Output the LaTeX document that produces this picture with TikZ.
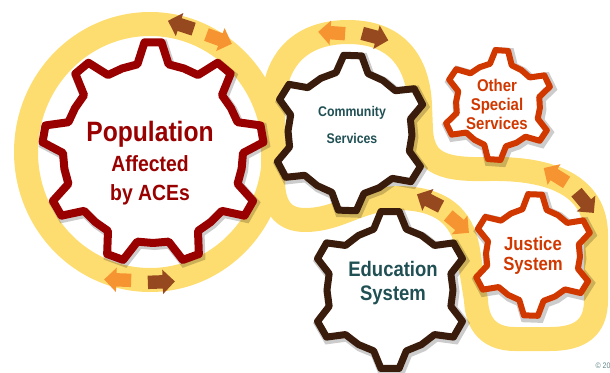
\documentclass[tikz,border=0pt]{standalone}
\usepackage{fontspec}
\setmainfont{Liberation Sans}[FakeStretch=0.88]
\usetikzlibrary{shapes.arrows}
\definecolor{bandyellow}{RGB}{254,221,112}
\definecolor{popred}{RGB}{153,0,0}
\definecolor{gearbrown}{RGB}{58,28,12}
\definecolor{gearorange}{RGB}{208,56,0}
\definecolor{arroworange}{RGB}{247,148,50}
\definecolor{arrowbrown}{RGB}{150,72,30}
\definecolor{labelteal}{RGB}{32,80,84}
\tikzset{
band/.style={draw=bandyellow, line width=24pt, line join=round},
gearline/.style={fill=white, line join=round,
	  preaction={draw=black, draw opacity=0.2, line width=10pt,
	    transform canvas={shift={(1.5pt,-2pt)}}}},
twoway/.style={single arrow, inner xsep=0pt, inner ysep=6.5pt,
	  minimum height=27pt, single arrow head extend=5.5pt},
gearlabel/.style={align=center}
}
% #1 centre, #2 teeth, #3 tip radius, #4 root radius, #5 first tooth, #6 style
\newcommand{\drawgear}[6]{%
	\pgfmathsetmacro{\gearstep}{360/#2}
	\draw[gearline, #6, shift={(#1)}] ({#5-0.25*\gearstep}:#4)
	\foreach \k in {1,...,#2}{
		-- ({#5+(\k-1)*\gearstep-0.11*\gearstep}:#3)
		-- ({#5+(\k-1)*\gearstep+0.11*\gearstep}:#3)
		-- ({#5+(\k-1)*\gearstep+0.25*\gearstep}:#4)
		-- ({#5+(\k-1)*\gearstep+0.5*\gearstep}:#4)
		-- ({#5+(\k-1)*\gearstep+0.75*\gearstep}:#4)
	} -- cycle;
}

\begin{document}
\begin{tikzpicture}[x=1pt, y=-1pt]
	\useasboundingbox (0,0) rectangle (610,372);
	% the yellow track
	\draw[band] (150,152) ellipse [x radius=124pt, y radius=128pt];
	\draw[band] (273,150) -- (273,110) .. controls (273,55) and (305,32) .. (348,32)
	  .. controls (395,32) and (418,60) .. (420,105) -- (421,130)
	  .. controls (423,165) and (445,170) .. (490,169)
	  .. controls (550,168) and (596,185) .. (596,235) -- (596,300)
	  .. controls (596,328) and (580,339) .. (550,339) -- (515,339)
	  .. controls (490,339) and (477,325) .. (476,300) -- (468,250)
	  .. controls (462,215) and (440,199) .. (400,198)
	  .. controls (360,198) and (340,220) .. (305,220)
	  .. controls (282,220) and (273,205) .. (273,180) -- cycle;
	% arrows on the track
	\node[twoway, fill=arrowbrown, rotate=162] (topleft) at (184,26) {};
	\node[twoway, fill=arroworange, rotate=-20] (topright) at (216,38) {};
	\node[twoway, fill=arroworange, rotate=176] (commleft) at (335,33) {};
	\node[twoway, fill=arrowbrown, rotate=-15] (commright) at (372,36) {};
	\node[twoway, fill=arroworange, rotate=178] (botleft) at (121,280) {};
	\node[twoway, fill=arrowbrown, rotate=2] (botright) at (158,282) {};
	\node[twoway, fill=arrowbrown, rotate=153] (gapup) at (432,202) {};
	\node[twoway, fill=arroworange, rotate=-40] (gapdown) at (456,222) {};
	\node[twoway, fill=arroworange, rotate=148] (cornerup) at (558,177) {};
	\node[twoway, fill=arrowbrown, rotate=-50] (cornerdown) at (583,200) {};
	% gears
	\drawgear{153,153}{9}{111}{90}{-90}{draw=popred, line width=8pt}
	\drawgear{350,133}{6}{78}{62}{-88}{draw=gearbrown, line width=7pt}
	\drawgear{390,290}{6}{79}{63}{-90}{draw=gearbrown, line width=7pt}
	\drawgear{498,105}{6}{55}{42}{-86}{draw=gearorange, line width=6pt}
	\drawgear{533,255}{6}{61}{47}{-88}{draw=gearorange, line width=6pt}
	% labels
	\node[gearlabel, text=popred, font=\bfseries\fontsize{22}{29}\selectfont]
	  (population) at (150,163) {{\fontsize{28}{30}\selectfont Population}\\[1pt]Affected\\by ACEs};
	\node[gearlabel, text=labelteal, font=\bfseries\fontsize{14}{27}\selectfont]
	  (community) at (352,125) {Community\\Services};
	\node[gearlabel, text=labelteal, font=\bfseries\fontsize{21}{24}\selectfont]
	  (education) at (393,283) {Education\\System};
	\node[gearlabel, text=gearorange, font=\bfseries\fontsize{17}{19}\selectfont]
	  (other) at (497,104) {Other\\Special\\Services};
	\node[gearlabel, text=gearorange, font=\bfseries\fontsize{19}{20}\selectfont]
	  (justice) at (533,256) {Justice\\System};
	\node[anchor=west, text=labelteal!70, font=\fontsize{8}{9}\selectfont]
	  (copyright) at (592,366) {© 20};
\end{tikzpicture}
\end{document}
